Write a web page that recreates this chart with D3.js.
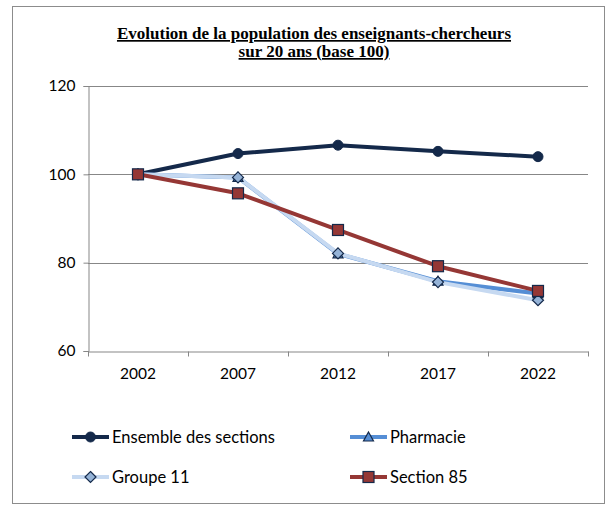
<!DOCTYPE html>
<html>
<head>
<meta charset="utf-8">
<script src="https://cdn.jsdelivr.net/npm/d3@7"></script>
<style>
  body { margin: 0; background: #fff; }
  svg text { font-family: Lato, "Open Sans", sans-serif; }
</style>
</head>
<body>
<div id="chart"></div>
<script>
const years = ['2002', '2007', '2012', '2017', '2022'];
const ensemble = [100, 104.7, 106.6, 105.2, 104.0];
const pharmacie = [100, 99.3, 82.0, 75.8, 73.0];
const groupe11 = [100, 99.3, 82.1, 75.6, 71.5];
const section85 = [100, 95.7, 87.4, 79.2, 73.6];
const yTicks = [60, 80, 100, 120];

const series = [
    { name: 'Ensemble des sections', values: ensemble, line: '#14294a', fill: '#14294a', marker: 'circle' },
    { name: 'Pharmacie', values: pharmacie, line: '#558ed5', fill: '#558ed5', marker: 'triangle' },
    { name: 'Groupe 11', values: groupe11, line: '#c6d9f1', fill: '#95b3d7', marker: 'diamond' },
    { name: 'Section 85', values: section85, line: '#953735', fill: '#953735', marker: 'square' }
];

const W = 616, H = 506;
const margin = { top: 86, right: 28, bottom: 155, left: 88 },
      width = 588 - margin.left,
      height = 351 - margin.top;

const svg = d3.select('#chart').append('svg')
    .attr('width', W)
    .attr('height', H);

// outer frame
svg.append('rect')
    .attr('x', 12.5).attr('y', 6.5)
    .attr('width', 592).attr('height', 497)
    .attr('fill', '#fff')
    .attr('stroke', '#8c8c8c')
    .attr('stroke-width', 1);

// title
const title = svg.append('text')
    .attr('x', 314)
    .attr('text-anchor', 'middle')
    .style('font-family', '"Liberation Serif", "Times New Roman", serif')
    .style('font-weight', 'bold')
    .style('font-size', '17px')
    .style('text-decoration', 'underline');
title.append('tspan').attr('x', 314).attr('y', 39).text('Evolution de la population des enseignants-chercheurs');
title.append('tspan').attr('x', 314).attr('y', 57).text('sur 20 ans (base 100)');

const g = svg.append('g')
    .attr('transform', 'translate(' + margin.left + ',' + margin.top + ')');

const x = d3.scaleBand()
    .domain(years)
    .range([0, width]);

const y = d3.scaleLinear()
    .domain([60, 120])
    .range([height, 0]);

// gridlines
g.append('g')
    .selectAll('line')
    .data(yTicks.filter(d => d !== 60))
    .enter().append('line')
    .attr('x1', 0).attr('x2', width)
    .attr('y1', d => Math.round(y(d)) + 0.5)
    .attr('y2', d => Math.round(y(d)) + 0.5)
    .attr('stroke', '#878787');

// y axis
const yAxis = g.append('g')
    .attr('transform', 'translate(0.5,0)')
    .call(d3.axisLeft(y).tickValues(yTicks).tickSize(5).tickPadding(8));
yAxis.select('.domain').attr('stroke', '#878787');
yAxis.selectAll('.tick line').attr('stroke', '#878787');
yAxis.selectAll('text').style('font-size', '15.5px').attr('fill', '#000');

// x axis
const xAxis = g.append('g')
    .attr('transform', 'translate(0,' + (height + 0.5) + ')')
    .call(d3.axisBottom(x).tickSize(0).tickPadding(16));
xAxis.select('.domain').attr('stroke', '#878787');
xAxis.selectAll('text').style('font-size', '15.5px').attr('fill', '#000');
xAxis.selectAll('.sep')
    .data(d3.range(years.length + 1))
    .enter().append('line')
    .attr('class', 'sep')
    .attr('x1', i => Math.round(i * x.step()) + 0.5)
    .attr('x2', i => Math.round(i * x.step()) + 0.5)
    .attr('y1', 0).attr('y2', 5)
    .attr('stroke', '#878787');

const line = d3.line()
    .x((d, i) => x(years[i]) + x.bandwidth() / 2)
    .y(d => y(d));

function drawMarker(sel, type, cx, cy, s) {
    const stroke = '#14294a';
    if (type === 'circle') {
        sel.append('circle').attr('cx', cx).attr('cy', cy).attr('r', s.r || 5)
            .attr('fill', s.fill).attr('stroke', stroke).attr('stroke-width', 1);
    } else if (type === 'square') {
        const h = s.h || 5.5;
        sel.append('rect').attr('x', cx - h).attr('y', cy - h).attr('width', 2 * h).attr('height', 2 * h)
            .attr('fill', s.fill).attr('stroke', stroke).attr('stroke-width', 1.2);
    } else if (type === 'diamond') {
        const h = s.h || 5.5;
        sel.append('path')
            .attr('d', `M${cx},${cy - h}L${cx + h},${cy}L${cx},${cy + h}L${cx - h},${cy}Z`)
            .attr('fill', s.fill).attr('stroke', stroke).attr('stroke-width', 1.2);
    } else if (type === 'triangle') {
        const h = s.h || 5;
        sel.append('path')
            .attr('d', `M${cx},${cy - h}L${cx + h},${cy + h * 0.8}L${cx - h},${cy + h * 0.8}Z`)
            .attr('fill', s.fill).attr('stroke', stroke).attr('stroke-width', 1.2);
    }
}

// draw order: Ensemble, Pharmacie, Groupe 11, Section 85
series.forEach(s => {
    g.append('path')
        .datum(s.values)
        .attr('fill', 'none')
        .attr('stroke', s.line)
        .attr('stroke-width', 4)
        .attr('stroke-linejoin', 'round')
        .attr('d', line);
});
series.forEach(s => {
    const mg = g.append('g');
    s.values.forEach((v, i) => {
        drawMarker(mg, s.marker, x(years[i]) + x.bandwidth() / 2, y(v), s);
    });
});

// legend
const legendPos = [
    { x: 72, y: 437 }, { x: 350, y: 437 },
    { x: 72, y: 477 }, { x: 350, y: 477 }
];
series.forEach((s, i) => {
    const p = legendPos[i];
    const lg = svg.append('g');
    lg.append('line')
        .attr('x1', p.x).attr('x2', p.x + 37)
        .attr('y1', p.y).attr('y2', p.y)
        .attr('stroke', s.line).attr('stroke-width', 4);
    drawMarker(lg, s.marker, p.x + 18.5, p.y, s);
    lg.append('text')
        .attr('x', p.x + 40)
        .attr('y', p.y)
        .attr('dy', '0.35em')
        .style('font-size', '16.5px')
        .text(s.name);
});
</script>
</body>
</html>
